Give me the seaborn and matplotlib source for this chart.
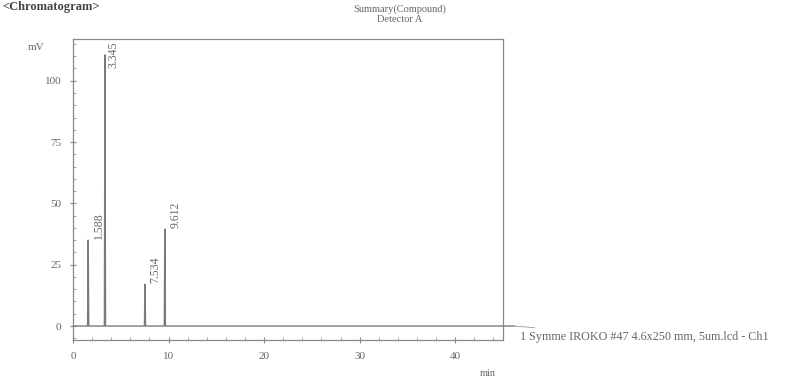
import numpy as np
import pandas as pd
import matplotlib
matplotlib.use("Agg")
import matplotlib.pyplot as plt
from matplotlib.ticker import MultipleLocator
import seaborn as sns

# Peak table (retention time in min, height in mV)
peak_rt = [1.588, 3.345, 7.534, 9.612]
peak_labels = ["1.588", "3.345", "7.534", "9.612"]
peak_height = [35.0, 110.5, 17.0, 39.5]
run_start, run_end = 0.0, 46.2
half_width = 0.06

trace_name = "1 Symme IROKO #47 4.6x250 mm, 5um.lcd - Ch1"

# Build the trace from the peak table: flat baseline with sharp peaks
xs, ys = [run_start], [0.0]
for rt, h in zip(peak_rt, peak_height):
    xs += [rt - half_width, rt, rt + half_width]
    ys += [0.0, h, 0.0]
xs.append(run_end)
ys.append(0.0)
trace = pd.DataFrame({"min": xs, "mV": ys})

sns.set_theme(style="white")
plt.rcParams["font.family"] = ["Liberation Serif", "DejaVu Serif"]

ink = "#666666"
line_c = "#7a7a7a"

fig = plt.figure(figsize=(7.92, 3.78), dpi=100)
ax = fig.add_axes([73 / 792, 1 - 340 / 378, (503 - 73) / 792, (340 - 39) / 378])

sns.lineplot(data=trace, x="min", y="mV", ax=ax, color=line_c, lw=1.0,
             sort=False, estimator=None, clip_on=False)

ax.set_xlim(0, 45)
ax.set_ylim(-5.7, 117)

for sp in ax.spines.values():
    sp.set_color("#888888")
    sp.set_linewidth(0.9)

ax.xaxis.set_major_locator(MultipleLocator(10))
ax.xaxis.set_minor_locator(MultipleLocator(2))
ax.yaxis.set_major_locator(MultipleLocator(25))
ax.yaxis.set_minor_locator(MultipleLocator(5))
ax.tick_params(axis="both", which="major", direction="inout", length=5,
               width=0.8, color="#888888", labelsize=8, labelcolor=ink,
               bottom=True, left=True, pad=6)
ax.tick_params(axis="both", which="minor", direction="in", length=2.5,
               width=0.6, color="#999999", bottom=True, left=True)
ax.set_xlabel("")
ax.set_ylabel("")

# Peak retention-time labels
for rt, lab, h in zip(peak_rt, peak_labels, peak_height):
    if h > 100:
        ax.text(rt + 0.9, 116, lab, rotation=90, ha="center", va="top",
                fontsize=8.5, color=ink)
    else:
        ax.text(rt + 1.1, h + 0.5, lab, rotation=90, ha="center", va="bottom",
                fontsize=8.5, color=ink)

# Axis units
fig.text(28 / 792, 1 - 47 / 378, "mV", fontsize=8, color=ink, ha="left", va="center")
fig.text(488 / 792, 1 - 373 / 378, "min", fontsize=7.5, color=ink, ha="center", va="center")

# Header
fig.text(400 / 792, 1 - 9 / 378, "Summary(Compound)", fontsize=7.5, color=ink,
         ha="center", va="center")
fig.text(400 / 792, 1 - 20 / 378, "Detector A", fontsize=7.5, color=ink,
         ha="center", va="center")
fig.text(2 / 792, 1 - 1 / 378, "<Chromatogram>", fontsize=9, fontweight="bold",
         color="#444444", ha="left", va="top")

# Trace legend with leader line
ax.annotate(trace_name, xy=(run_end, 0), xycoords="data",
            xytext=(520 / 792, 1 - 337 / 378), textcoords="figure fraction",
            fontsize=8.7, color=ink, ha="left", va="center",
            arrowprops=dict(arrowstyle="-", color="#999999", lw=0.6,
                            shrinkA=0, shrinkB=0),
            annotation_clip=False)

fig.savefig("out.png", dpi=100, facecolor="white")
